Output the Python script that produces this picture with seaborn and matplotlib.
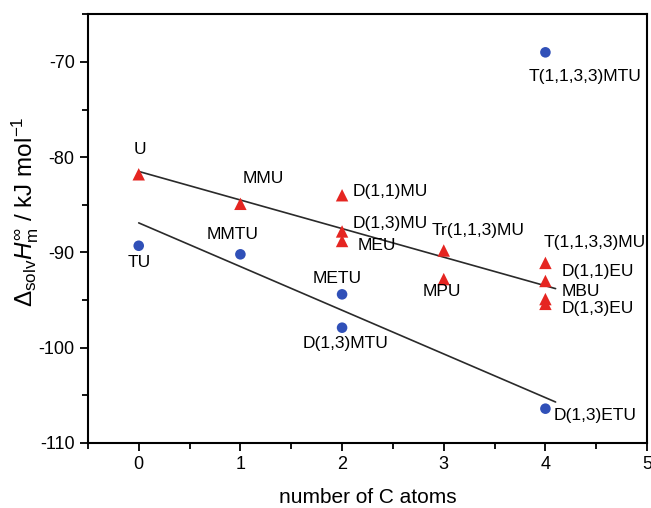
import pandas as pd
import matplotlib.pyplot as plt
import seaborn as sns
from matplotlib.ticker import MultipleLocator

# dados: ureias (triângulos vermelhos) e tioureias (círculos azuis)
u_nomes = ['U', 'MMU', 'D(1,1)MU', 'D(1,3)MU', 'MEU', 'Tr(1,1,3)MU', 'MPU',
           'T(1,1,3,3)MU', 'D(1,1)EU', 'MBU', 'D(1,3)EU']
u_carbonos = [0, 1, 2, 2, 2, 3, 3, 4, 4, 4, 4]
u_entalpia = [-81.8, -84.9, -84.0, -87.8, -88.8, -89.8, -92.8, -91.1, -93.0, -94.9, -95.4]

tu_nomes = ['TU', 'MMTU', 'METU', 'D(1,3)MTU', 'D(1,3)ETU', 'T(1,1,3,3)MTU']
tu_carbonos = [0, 1, 2, 2, 4, 4]
tu_entalpia = [-89.3, -90.2, -94.4, -97.9, -106.4, -69.0]

# retas de ajuste (extremos)
ajuste_x = [0, 4.1]
ajuste_u = [-81.5, -93.8]
ajuste_tu = [-86.9, -105.7]

# deslocamento dos rótulos (pixels) e alinhamento
u_desloc = [(1, 25, 'center'), (23, 25, 'center'), (11, 4, 'left'), (11, 8, 'left'),
            (16, -5, 'left'), (-12, 20, 'left'), (-2, -12, 'center'), (-2, 20, 'left'),
            (16, 10, 'left'), (16, 8, 'left'), (16, -5, 'left')]
tu_desloc = [(1, -17, 'center'), (-8, 20, 'center'), (-5, 16, 'center'),
             (3, -16, 'center'), (8, -7, 'left'), (40, -24, 'center')]

sns.set_style('ticks')
plt.rcParams['font.family'] = ['Liberation Sans', 'DejaVu Sans']
plt.rcParams['mathtext.fontset'] = 'custom'
plt.rcParams['mathtext.rm'] = 'Liberation Sans'
plt.rcParams['mathtext.it'] = 'Liberation Sans:italic'
plt.rcParams['axes.unicode_minus'] = False
plt.rcParams['text.color'] = 'black'
plt.rcParams['axes.labelcolor'] = 'black'
plt.rcParams['xtick.color'] = 'black'
plt.rcParams['ytick.color'] = 'black'
plt.rcParams['axes.edgecolor'] = 'black'

df_u = pd.DataFrame({'x': u_carbonos, 'y': u_entalpia})
df_tu = pd.DataFrame({'x': tu_carbonos, 'y': tu_entalpia})

fig = plt.figure(figsize=(6.51, 5.08), dpi=100)
ax = fig.add_axes([0.135, 0.128, 0.859, 0.844])

ax.plot(ajuste_x, ajuste_u, color='#2a2a2a', lw=1.2, zorder=1)
ax.plot(ajuste_x, ajuste_tu, color='#2a2a2a', lw=1.2, zorder=1)

sns.scatterplot(data=df_u, x='x', y='y', marker='^', s=80, color='#e52521',
                edgecolor='none', ax=ax, zorder=3)
sns.scatterplot(data=df_tu, x='x', y='y', marker='o', s=58, color='#3050b8',
                edgecolor='none', ax=ax, zorder=3)

for nome, x, y, (dx, dy, ha) in zip(u_nomes, u_carbonos, u_entalpia, u_desloc):
    ax.annotate(nome, (x, y), xytext=(dx, dy), textcoords='offset pixels',
                ha=ha, va='center', fontsize=12.5)
for nome, x, y, (dx, dy, ha) in zip(tu_nomes, tu_carbonos, tu_entalpia, tu_desloc):
    ax.annotate(nome, (x, y), xytext=(dx, dy), textcoords='offset pixels',
                ha=ha, va='center', fontsize=12.5)

ax.set_xlim(-0.5, 5)
ax.set_ylim(-110, -65)
ax.xaxis.set_major_locator(MultipleLocator(1))
ax.xaxis.set_minor_locator(MultipleLocator(0.5))
ax.yaxis.set_major_locator(MultipleLocator(10))
ax.yaxis.set_minor_locator(MultipleLocator(5))
ax.tick_params(which='both', direction='out', width=1.3, labelsize=13, top=False, right=False)
ax.tick_params(which='major', length=6)
ax.tick_params(which='minor', length=4)
for s in ax.spines.values():
    s.set_linewidth(1.5)

ax.set_xlabel('number of C atoms', fontsize=15)
ax.set_ylabel(r'$\Delta_{\rm solv}\mathit{H}_{\rm m}^{\infty}$ / kJ mol$^{-1}$', fontsize=17.5)
ax.xaxis.set_label_coords(0.5, -0.105)
ax.yaxis.set_label_coords(-0.084, 0.54)

fig.savefig('out.png', dpi=100)
